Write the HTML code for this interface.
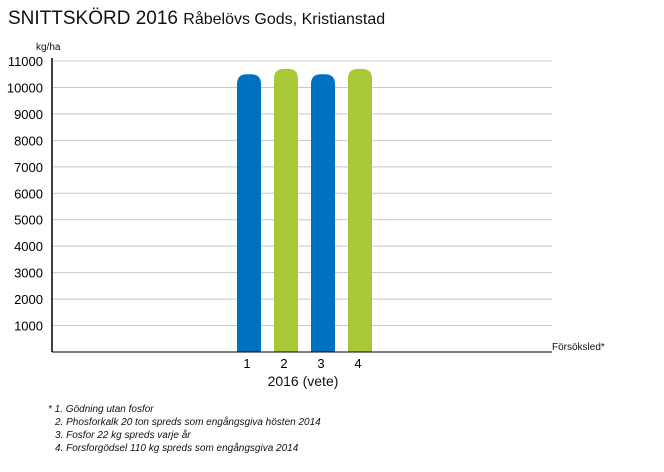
<!DOCTYPE html>
<html><head><meta charset="utf-8"><style>
body{margin:0;background:#fff;font-family:"Liberation Sans",Arial,sans-serif;}
svg text{font-family:"Liberation Sans",Arial,sans-serif;}
</style></head><body>
<svg id="chart" width="664" height="467" viewBox="0 0 664 467">
<text x="8" y="24" font-size="19" fill="#111">SNITTSKÖRD 2016 <tspan font-size="16">Råbelövs Gods, Kristianstad</tspan></text>
<text x="36" y="50" font-size="10" fill="#111">kg/ha</text>
<g id="grid"></g><g id="bars"></g><g id="ticks"></g>
<line x1="52" y1="58" x2="52" y2="352" stroke="#000" stroke-width="1.5"/>
<line x1="52" y1="352" x2="552" y2="352" stroke="#000" stroke-width="1"/>
<text x="552" y="350" font-size="10" fill="#111">Försöksled*</text>
<text x="303" y="386" font-size="14" fill="#111" text-anchor="middle">2016 (vete)</text>
<g font-size="10" font-style="italic" fill="#111">
<text x="48" y="412">* 1. Gödning utan fosfor</text>
<text x="55" y="425">2. Phosforkalk 20 ton spreds som engångsgiva hösten 2014</text>
<text x="55" y="438">3. Fosfor 22 kg spreds varje år</text>
<text x="55" y="451">4. Forsforgödsel 110 kg spreds som engångsgiva 2014</text>
</g>
</svg>
<script>
const categories=["1","2","3","4"];
const values=[10500,10700,10500,10700];
const colors=["#0070c0","#a9c837","#0070c0","#a9c837"];
const yTicks=[1000,2000,3000,4000,5000,6000,7000,8000,9000,10000,11000];
const NS="http://www.w3.org/2000/svg";
const y=v=>352-v*(291/11000);
const x=i=>249+i*37;
const grid=document.getElementById('grid'),ticks=document.getElementById('ticks'),bars=document.getElementById('bars');
yTicks.forEach(t=>{
 const l=document.createElementNS(NS,'line');
 l.setAttribute('x1',52);l.setAttribute('x2',552);l.setAttribute('y1',y(t));l.setAttribute('y2',y(t));
 l.setAttribute('stroke','#c8c8c8');
 
 
 grid.appendChild(l);
 const tx=document.createElementNS(NS,'text');
 tx.setAttribute('x',43);tx.setAttribute('y',y(t)+5);tx.setAttribute('text-anchor','end');tx.setAttribute('font-size','13');
 tx.textContent=t;
 
 
 ticks.appendChild(tx);
});
values.forEach((v,i)=>{
 const w=24,r=10,cx=x(i),top=y(v),b=352,l=cx-w/2,rr=cx+w/2;
 const p=document.createElementNS(NS,'path');
 p.setAttribute('d',`M${l},${b}V${top+r}Q${l},${top} ${l+r},${top}H${rr-r}Q${rr},${top} ${rr},${top+r}V${b}Z`);
 p.setAttribute('fill',colors[i]);
 
 
 bars.appendChild(p);
 const tx=document.createElementNS(NS,'text');
 tx.setAttribute('x',cx-2);tx.setAttribute('y',368);tx.setAttribute('text-anchor','middle');tx.setAttribute('font-size','13');
 tx.textContent=categories[i];
 
 
 ticks.appendChild(tx);
});
</script>
</body></html>
